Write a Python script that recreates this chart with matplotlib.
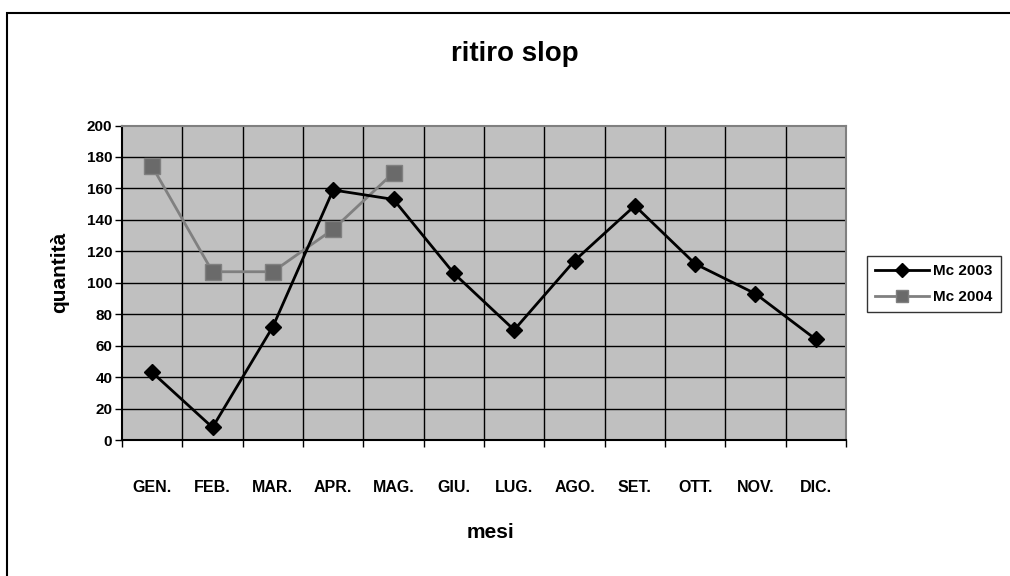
import matplotlib
matplotlib.use("Agg")
import matplotlib.pyplot as plt
from matplotlib.patches import Rectangle
import numpy as np

plt.rcParams['font.family'] = ['Liberation Sans', 'DejaVu Sans']

months = ["GEN.", "FEB.", "MAR.", "APR.", "MAG.", "GIU.", "LUG.", "AGO.", "SET.", "OTT.", "NOV.", "DIC."]
mc2003 = [43, 8, 72, 159, 153, 106, 70, 114, 149, 112, 93, 64]
mc2004 = [174, 107, 107, 134, 170]
yticks = list(range(0, 201, 20))

W, H = 1010, 576
fig = plt.figure(figsize=(W / 100, H / 100), dpi=100)

# outer chart border (top and left visible)
fig.add_artist(Rectangle((7 / W, -0.1), 1.2, 1 - 13 / H + 0.1, transform=fig.transFigure,
                         fill=False, edgecolor='black', linewidth=1.5))

left, right, top, bottom = 122, 846, 125.5, 440
ax = fig.add_axes([left / W, 1 - bottom / H, (right - left) / W, (bottom - top) / H])
ax.set_facecolor('#C0C0C0')

x = np.arange(len(months))
ax.plot(x, mc2003, color='black', lw=2, marker='D', ms=8.5, mfc='black', mec='black',
        label='Mc 2003', zorder=4)
ax.plot(x[:len(mc2004)], mc2004, color='#808080', lw=2, marker='s', ms=11,
        mfc='#6a6a6a', mec='#808080', label='Mc 2004', zorder=3)

ax.set_xlim(-0.5, len(months) - 0.5)
ax.set_ylim(0, 200)
ax.set_yticks(yticks)
ax.set_yticklabels([str(v) for v in yticks])
ax.set_xticks(np.arange(-0.5, len(months), 1.0))
ax.set_xticklabels([])
ax.set_xticks(x, minor=True)
ax.set_xticklabels(months, minor=True)

ax.tick_params(axis='x', which='major', direction='out', length=5, width=1, color='black')
ax.tick_params(axis='x', which='minor', length=0, pad=29, labelsize=11.5)
ax.tick_params(axis='y', direction='out', length=5, width=1, pad=2, labelsize=11)
for lab in ax.get_xticklabels(minor=True) + ax.get_yticklabels():
    lab.set_fontweight('bold')

for v in yticks[1:-1]:
    ax.axhline(v, color='black', lw=1, zorder=1)
for b in np.arange(0.5, len(months) - 1, 1.0):
    ax.axvline(b, color='black', lw=1, zorder=1)

ax.spines['left'].set_color('black')
ax.spines['bottom'].set_color('black')
ax.spines['left'].set_linewidth(1.5)
ax.spines['bottom'].set_linewidth(1.5)
ax.spines['top'].set_color('#808080')
ax.spines['right'].set_color('#808080')
ax.spines['top'].set_linewidth(1.5)
ax.spines['right'].set_linewidth(1.5)

fig.text(515 / W, 1 - 54 / H, 'ritiro slop', ha='center', va='center', fontsize=20, fontweight='bold')
ax.set_xlabel('mesi', fontsize=15, fontweight='bold')
ax.xaxis.set_label_coords((490 - left) / (right - left), (bottom - 533) / (bottom - top))
ax.xaxis.label.set_va('center')
ax.set_ylabel('quantità', fontsize=15, fontweight='bold')
ax.yaxis.set_label_coords((60 - left) / (right - left), (bottom - 272) / (bottom - top))
ax.yaxis.label.set_va('center')

leg = fig.legend(loc='upper left', bbox_to_anchor=(867 / W, 1 - 256 / H), frameon=True,
                 fancybox=False, edgecolor='black', prop={'weight': 'bold', 'size': 11},
                 handlelength=3.5, borderpad=0.55, labelspacing=0.75, handletextpad=0.3,
                 borderaxespad=0, markerscale=0.85)
leg.get_frame().set_linewidth(1)

fig.savefig('out.png', dpi=100)
